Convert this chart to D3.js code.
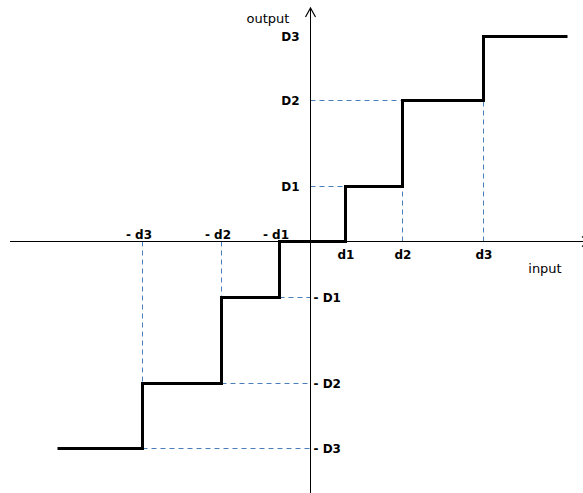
<!DOCTYPE html>
<html><head><meta charset="utf-8">
<script src="https://cdn.jsdelivr.net/npm/d3@7"></script>
<style>body{margin:0;background:#fff;overflow:hidden}svg{display:block}</style>
</head><body>
<script>
// Data (input/output units, origin at 0)
const stepInputs = [-253, -168, -89, -31, 35, 92, 173, 257];
const stepOutputs = [-207, -142, -56, 0, 55, 141, 205];
const posInputLabels = ["d1", "d2", "d3"];
const posInputs = [35, 92, 173];
const negInputLabels = ["- d3", "- d2", "- d1"];
const negInputs = [-168, -89, -31];
const posOutputLabels = ["D1", "D2", "D3"];
const posOutputs = [55, 141, 205];
const negOutputLabels = ["- D1", "- D2", "- D3"];
const negOutputs = [-56, -142, -207];

const W = 583, H = 493;
const svg = d3.select("body").append("svg").attr("width", W).attr("height", H);
const x = d3.scaleLinear().domain([-300, 273]).range([10, 583]);
const y = d3.scaleLinear().domain([0, 241]).range([241, 0]);

const font = "DejaVu Sans, sans-serif";
const blue = "#4a7ebb";

// dashed guides
const dashes = [];
dashes.push([[0, posOutputs[0]], [posInputs[0], posOutputs[0]]]);
dashes.push([[0, posOutputs[1]], [posInputs[1], posOutputs[1]]]);
dashes.push([[posInputs[1], 0], [posInputs[1], posOutputs[0]]]);
dashes.push([[posInputs[2], 0], [posInputs[2], posOutputs[1]]]);
dashes.push([[negInputs[2], negOutputs[0]], [0, negOutputs[0]]]);
dashes.push([[negInputs[1], negOutputs[1]], [0, negOutputs[1]]]);
dashes.push([[negInputs[0], negOutputs[2]], [0, negOutputs[2]]]);
dashes.push([[negInputs[1], 0], [negInputs[1], negOutputs[0]]]);
dashes.push([[negInputs[0], 0], [negInputs[0], negOutputs[1]]]);

svg.selectAll("line.dash").data(dashes).join("line")
  .attr("x1", d => x(d[0][0]) + 0.5).attr("y1", d => y(d[0][1]) + 0.5)
  .attr("x2", d => x(d[1][0]) + 0.5).attr("y2", d => y(d[1][1]) + 0.5)
  .attr("stroke", blue).attr("stroke-width", 1).attr("stroke-dasharray", "5,4");

// axes
const x0 = x(0) + 0.5, y0 = y(0) + 0.5;
svg.append("line").attr("x1", 10).attr("x2", 590).attr("y1", y0).attr("y2", y0)
  .attr("stroke", "#000").attr("stroke-width", 1);
svg.append("path").attr("d", `M${582},${y0-5}L${589},${y0}L${582},${y0+5}`)
  .attr("fill", "none").attr("stroke", "#000").attr("stroke-width", 1.2);
svg.append("line").attr("x1", x0).attr("x2", x0).attr("y1", 8).attr("y2", H)
  .attr("stroke", "#000").attr("stroke-width", 1);
svg.append("path").attr("d", `M${x0-5},${17}L${x0},${8}L${x0+5},${17}`)
  .attr("fill", "none").attr("stroke", "#000").attr("stroke-width", 1.2);

// step function
const pts = stepOutputs.map((v, i) => [stepInputs[i], v]);
pts.push([stepInputs[stepInputs.length - 1], stepOutputs[stepOutputs.length - 1]]);
const line = d3.line().x(d => x(d[0]) + 0.5).y(d => y(d[1]) + 0.5).curve(d3.curveStepAfter);
svg.append("path").datum(pts).attr("d", line)
  .attr("fill", "none").attr("stroke", "#000").attr("stroke-width", 3)
  .attr("stroke-linejoin", "miter").attr("stroke-linecap", "butt");

// labels
const lab = (t, px, py, anchor, bold, size) => svg.append("text")
  .attr("x", px).attr("y", py).attr("text-anchor", anchor)
  .attr("font-family", font).attr("font-size", size || 12)
  .attr("font-weight", bold ? "bold" : "normal").attr("fill", "#000").text(t);

posInputs.forEach((v, i) => lab(posInputLabels[i], x(v) + 1, y0 + 17, "middle", true));
negInputs.forEach((v, i) => lab(negInputLabels[i], x(v) - 3, y0 - 3, "middle", true));
posOutputs.forEach((v, i) => lab(posOutputLabels[i], x0 - 11, y(v) + 5, "end", true));
negOutputs.forEach((v, i) => lab(negOutputLabels[i], x0 + 3, y(v) + 5, "start", true));
lab("output", 268, 23, "middle", false, 13);
lab("input", 545, 273, "middle", false, 13);
</script>
</body></html>
